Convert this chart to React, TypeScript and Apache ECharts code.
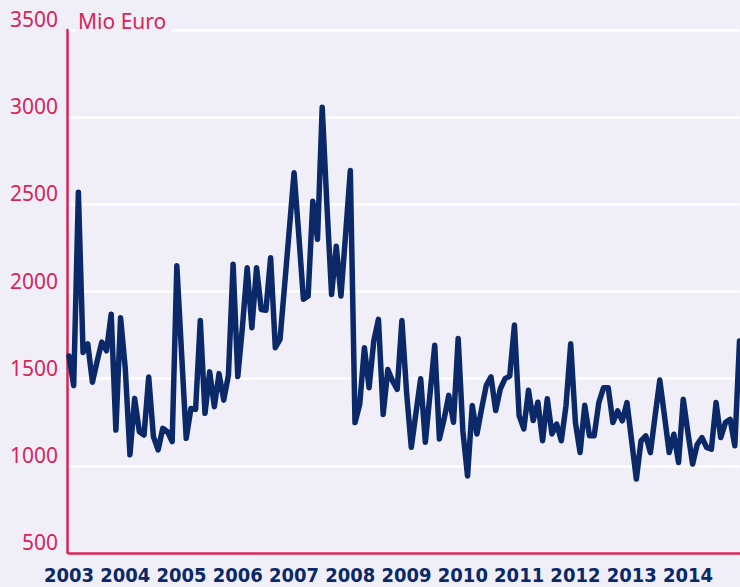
import React, { useEffect, useRef } from "react";
import * as echarts from "echarts";

const years = ["2003", "2004", "2005", "2006", "2007", "2008", "2009", "2010", "2011", "2012", "2013", "2014"];
const months = ["01", "02", "03", "04", "05", "06", "07", "08", "09", "10", "11", "12"];
const categories: string[] = years.flatMap((y) => months.map((m) => `${y}-${m}`));

const values2003 = [1630, 1460, 2570, 1650, 1700, 1480, 1600, 1710, 1660, 1870, 1205, 1850];
const values2004 = [1560, 1063, 1387, 1196, 1177, 1510, 1168, 1092, 1215, 1196, 1139, 2148];
const values2005 = [1650, 1158, 1329, 1324, 1834, 1301, 1539, 1339, 1529, 1377, 1520, 2157];
const values2006 = [1512, 1800, 2136, 1792, 2136, 1897, 1892, 2194, 1678, 1725, 2040, 2360];
const values2007 = [2681, 2327, 1955, 1974, 2518, 2299, 3057, 2500, 1983, 2260, 1974, 2330];
const values2008 = [2694, 1248, 1353, 1678, 1448, 1716, 1840, 1295, 1553, 1487, 1439, 1834];
const values2009 = [1420, 1106, 1304, 1500, 1135, 1413, 1692, 1154, 1269, 1404, 1250, 1731];
const values2010 = [1200, 942, 1346, 1183, 1327, 1462, 1510, 1317, 1442, 1500, 1515, 1808];
const values2011 = [1288, 1212, 1433, 1260, 1365, 1144, 1385, 1183, 1240, 1144, 1346, 1700];
const values2012 = [1250, 1076, 1347, 1172, 1172, 1363, 1448, 1448, 1248, 1315, 1258, 1363];
const values2013 = [1143, 924, 1143, 1172, 1076, 1286, 1492, 1286, 1076, 1181, 1019, 1382];
const values2014 = [1191, 1010, 1124, 1162, 1105, 1095, 1363, 1162, 1248, 1267, 1115, 1716];

const seriesValues = [
  ...values2003, ...values2004, ...values2005, ...values2006,
  ...values2007, ...values2008, ...values2009, ...values2010,
  ...values2011, ...values2012, ...values2013, ...values2014,
];

const unitLabel = "Mio Euro";

const BG = "#f0eff7";
const PINK = "#d8245a";
const NAVY = "#0b2968";

export default function App() {
  const ref = useRef<HTMLDivElement>(null);
  useEffect(() => {
    if (!ref.current) return;
    const chart = echarts.init(ref.current, undefined, { renderer: "svg" });
    chart.setOption({
      animation: false,
      backgroundColor: BG,
      grid: { left: 69, right: 0.5, top: 30, bottom: 34 },
      xAxis: {
        type: "category",
        data: categories,
        boundaryGap: false,
        axisLine: { show: true, lineStyle: { color: PINK, width: 2.5 } },
        axisTick: { show: false },
        splitLine: { show: false },
        axisLabel: {
          interval: (idx: number) => idx % 12 === 0,
          formatter: (v: string) => v.slice(0, 4),
          color: NAVY,
          fontFamily: "'Liberation Sans Narrow', 'DejaVu Sans Condensed', sans-serif",
          fontWeight: "bold",
          fontSize: 20,
          margin: 12,
          hideOverlap: false,
        },
      },
      yAxis: {
        type: "value",
        min: 500,
        max: 3500,
        interval: 500,
        offset: 2,
        axisLine: { show: true, lineStyle: { color: PINK, width: 2.5 } },
        axisTick: { show: false },
        splitLine: { show: true, lineStyle: { color: "#ffffff", width: 2.5 } },
        axisLabel: {
          color: PINK,
          formatter: (v: number) => String(v),
          fontFamily: "'Noto Sans', sans-serif",
          fontSize: 21,
          margin: 9,
          verticalAlign: "bottom",
          lineHeight: 22,
        },
      },
      graphic: [
        {
          type: "text",
          left: 76,
          top: 8,
          z: 100,
          style: {
            text: unitLabel,
            fill: PINK,
            font: "21px 'Noto Sans', sans-serif",
            backgroundColor: BG,
            padding: [2, 6, 4, 2],
          },
        },
      ],
      series: [
        {
          type: "line",
          data: seriesValues,
          showSymbol: false,
          symbol: "none",
          lineStyle: { color: NAVY, width: 5.5, join: "round", cap: "round" },
          z: 5,
        },
      ],
    });
    return () => chart.dispose();
  }, []);
  return <div ref={ref} style={{ width: 740, height: 587, position: "fixed", left: 0, top: 0 }} />;
}
